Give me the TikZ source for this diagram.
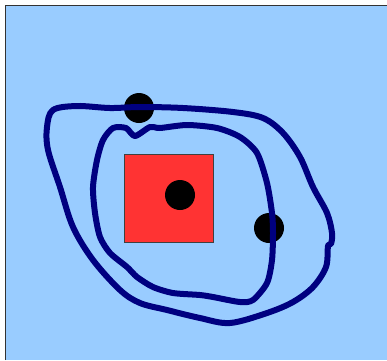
\documentclass[tikz,border=0pt]{standalone}
\usepackage{tikz}
\usetikzlibrary{positioning}
\definecolor{skyfill}{HTML}{99CCFF}
\definecolor{boxred}{HTML}{FF3333}
\definecolor{loopnavy}{HTML}{000080}

\begin{document}
\begin{tikzpicture}[
    x=1pt, y=-1pt,
    loopline/.style={draw=loopnavy, line width=6pt, line join=round, line cap=round},
    dot/.style={circle, fill=black, inner sep=0pt, minimum size=30pt},
    redbox/.style={rectangle, draw=black!75, fill=boxred, line width=0.8pt, inner sep=0pt, minimum width=89pt, minimum height=88pt}
]
    \useasboundingbox (0,0) rectangle (387,360);

    % Hintergrund
    \fill[skyfill] (5,5) rectangle (387,360);
    \draw[black!80, line width=1pt] (5,360) -- (5,5) -- (387,5);

    % Quadrat und Punkte
    \node[redbox] (square) at (168.5,198) {};
    \node[dot] (ptop) at (139,108) {};
    \node[dot] (pmid) at (180,195) {};
    \node[dot] (pright) at (269,228) {};

    % aeussere Schleife
    \draw[loopline] plot[smooth cycle, tension=0.55] coordinates {
        (53,110) (77,106) (110,108) (140,107) (183,108) (233,112) (263,118)
        (283,133) (300,157) (313,187) (327,213) (332,233) (331,244) (328,246)
        (326,267) (313,287) (293,302) (267,313) (230,323) (200,318) (167,310)
        (140,303) (120,290) (93,260) (73,227) (60,187) (48,150) (47,127)};

    % innere Schleife
    \draw[loopline] plot[smooth cycle, tension=0.45] coordinates {
        (126,128) (135,136) (150,127) (160,128) (187,125) (217,128) (240,137)
        (257,153) (267,183) (272,213) (273,233) (272,260) (267,283) (253,300)
        (240,302) (213,297) (200,295) (173,293) (153,287) (137,277) (127,267)
        (110,253) (100,237) (95,213) (93,187) (97,160) (103,140) (113,128)};
\end{tikzpicture}
\end{document}
